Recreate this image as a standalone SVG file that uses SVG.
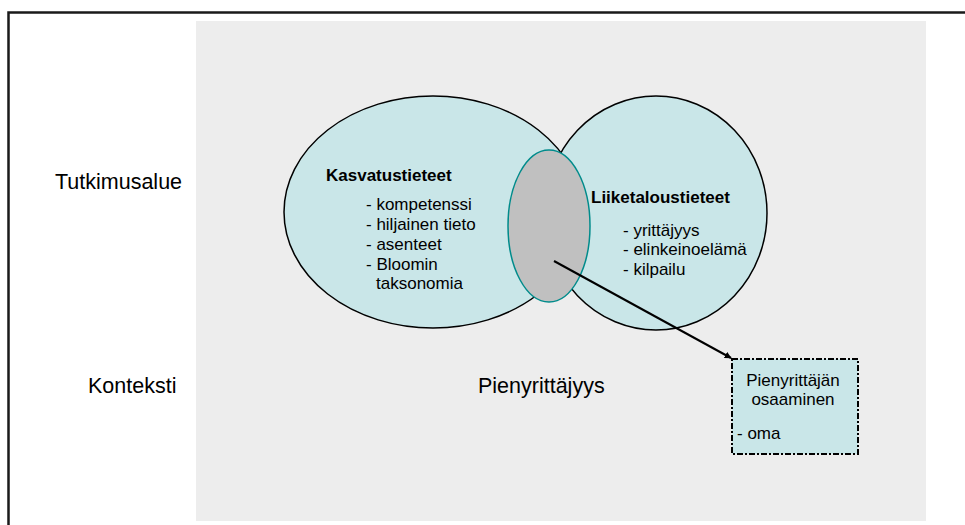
<svg xmlns="http://www.w3.org/2000/svg" width="965" height="525" viewBox="0 0 965 525">
<defs>
<style>
.t{font-family:"Liberation Sans",Arial,sans-serif;fill:#000}
.lbl{font-size:21.5px}
.it{font-size:17px}
.b{font-weight:bold;font-size:17px}
.ell{fill:#c9e6e8;stroke:#000;stroke-width:1.5}
</style>
<marker id="ah" viewBox="0 0 10 10" refX="9" refY="5" markerWidth="7" markerHeight="7" orient="auto" markerUnits="userSpaceOnUse">
<path d="M0,0 L10,5 L0,10 z" fill="#000"/>
</marker>
</defs>
<rect width="965" height="525" fill="#fff"/>
<rect x="8.5" y="12.5" width="1000" height="600" fill="none" stroke="#1a1a1a" stroke-width="2.5"/>
<rect x="196" y="21" width="730" height="500" fill="#ededed"/>
<g id="labels">
<text class="t lbl" x="55" y="189">Tutkimusalue</text>
<text class="t lbl" x="88" y="393">Konteksti</text>
<text class="t lbl" x="478" y="393">Pienyrittäjyys</text>
</g>
<g id="kasvatustieteet">
<ellipse class="ell" cx="433" cy="212" rx="149" ry="116"/>
<text class="t b" x="326" y="181">Kasvatustieteet</text>
<text class="t it" x="366" y="210">- kompetenssi</text>
<text class="t it" x="366" y="230">- hiljainen tieto</text>
<text class="t it" x="366" y="250">- asenteet</text>
<text class="t it" x="366" y="270">- Bloomin</text>
<text class="t it" x="376" y="289">taksonomia</text>
</g>
<g id="liiketaloustieteet">
<ellipse class="ell" cx="656" cy="213" rx="111" ry="117"/>
<text class="t b" x="591" y="203">Liiketaloustieteet</text>
<text class="t it" x="623" y="236">- yrittäjyys</text>
<text class="t it" x="623" y="255">- elinkeinoelämä</text>
<text class="t it" x="623" y="275">- kilpailu</text>
</g>
<g id="intersection">
<ellipse cx="549" cy="226" rx="41" ry="76" fill="#c0c0c0" stroke="#008b8b" stroke-width="1.5"/>
</g>
<g id="osaaminen">
<rect x="732" y="359" width="126" height="95" fill="#c9e6e8" stroke="#000" stroke-width="2" stroke-dasharray="6,2,2,2"/>
<text class="t it" x="793" y="386" text-anchor="middle">Pienyrittäjän</text>
<text class="t it" x="793" y="405" text-anchor="middle">osaaminen</text>
<text class="t it" x="737" y="439">- oma</text>
</g>
<g id="connectors">
<line x1="554" y1="261" x2="731" y2="358" stroke="#000" stroke-width="2" marker-end="url(#ah)"/>
</g>
</svg>
